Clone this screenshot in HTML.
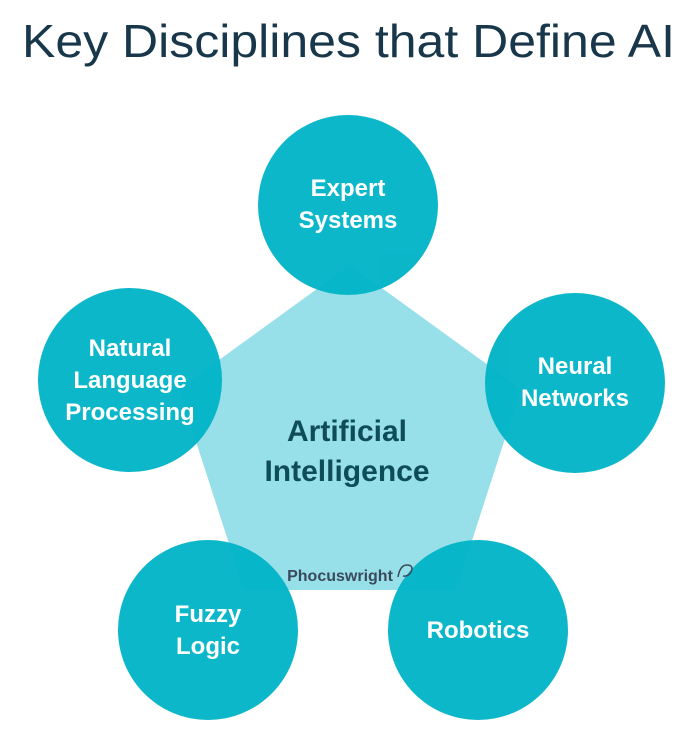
<!DOCTYPE html>
<html><head><meta charset="utf-8"><style>
html,body{margin:0;padding:0;background:#fff;}
svg{display:block;}
</style></head><body>
<svg width="700" height="738" viewBox="0 0 700 738" xmlns="http://www.w3.org/2000/svg" font-family="Liberation Sans, Arial, sans-serif">
<text x="22" y="57" font-size="46" fill="#18374a" textLength="653" lengthAdjust="spacingAndGlyphs">Key Disciplines that Define AI</text>
<polygon points="350,265 521,389 456,590 244,590 179,389" fill="#97dfe9"/>
<g fill="#00b3c7" opacity="0.95">
<circle cx="348" cy="205" r="90"/>
<circle cx="130" cy="380" r="92"/>
<circle cx="575" cy="383" r="90"/>
<circle cx="208" cy="630" r="90"/>
<circle cx="478" cy="630" r="90"/>
</g>
<g fill="#fff" font-weight="bold" font-size="24" text-anchor="middle">
<text x="348" y="196">Expert</text>
<text x="348" y="228">Systems</text>
<text x="130" y="356">Natural</text>
<text x="130" y="388">Language</text>
<text x="130" y="420">Processing</text>
<text x="575" y="374">Neural</text>
<text x="575" y="406">Networks</text>
<text x="208" y="622">Fuzzy</text>
<text x="208" y="654">Logic</text>
<text x="478" y="638">Robotics</text>
</g>
<g fill="#0e4c59" font-weight="bold" font-size="30" text-anchor="middle">
<text x="347" y="441">Artificial</text>
<text x="347" y="481">Intelligence</text>
</g>
<text x="340" y="581" font-size="16" font-weight="bold" fill="#3a4a5a" text-anchor="middle">Phocuswright</text>
<path d="M398 577 q2-12 9-12 q7 0 4 7 q-3 5-8 4" fill="none" stroke="#3a4a5a" stroke-width="1.5"/>
</svg>
</body></html>
